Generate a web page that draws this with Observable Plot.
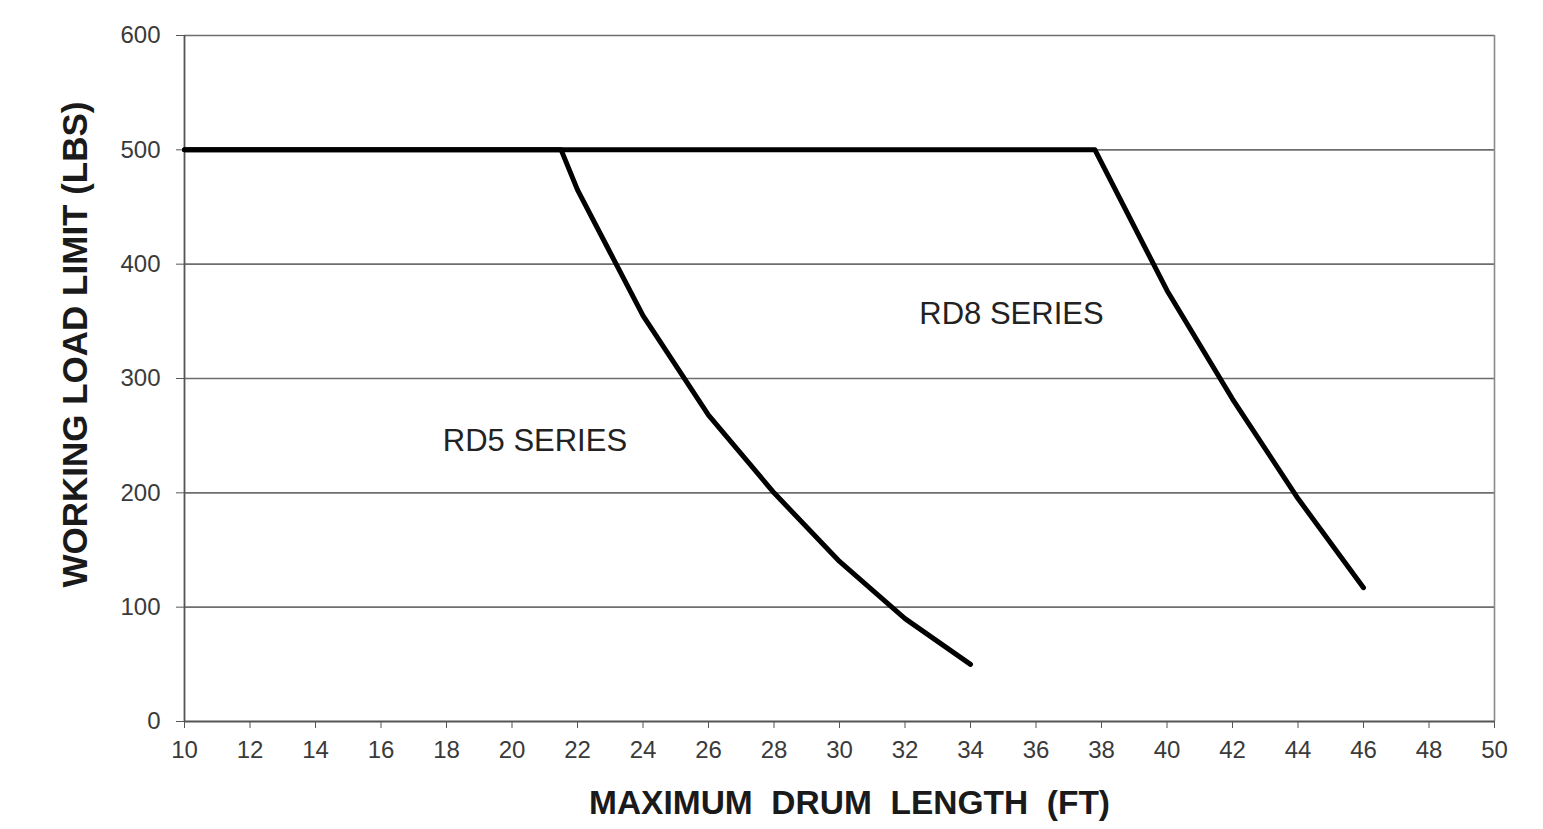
<!DOCTYPE html>
<html>
<head>
<meta charset="utf-8">
<script src="https://cdn.jsdelivr.net/npm/d3@7"></script>
<script src="https://cdn.jsdelivr.net/npm/@observablehq/plot@0.6"></script>
<style>
  html, body { margin: 0; padding: 0; background: #fff; }
  #chart svg { display: block; }
</style>
</head>
<body>
<div id="chart"></div>
<script>
// Drum length (ft) vs working load limit (lbs)
const rd5Length = [10, 21.5, 22, 23, 24, 26, 28, 30, 32, 34];
const rd5Load   = [500, 500, 465, 410, 355, 268, 200, 140, 90, 50];
const rd8Length = [10, 37.8, 40, 42, 44, 46];
const rd8Load   = [500, 500, 377, 282, 195, 117];

const xTicks = d3.range(10, 51, 2);
const yTicks = [0, 100, 200, 300, 400, 500, 600];
const gridLines = [100, 200, 300, 400, 500, 600];

const seriesLabels = ["RD5 SERIES", "RD8 SERIES"];
const labelX = [20.7, 35.25];
const labelY = [245, 356];

const xTitle = "MAXIMUM\u00A0\u00A0DRUM\u00A0\u00A0LENGTH\u00A0\u00A0(FT)";
const yTitle = "WORKING LOAD LIMIT (LBS)";

const rd5 = rd5Length.map((x, i) => ({x, y: rd5Load[i]}));
const rd8 = rd8Length.map((x, i) => ({x, y: rd8Load[i]}));
const labels = seriesLabels.map((t, i) => ({t, x: labelX[i], y: labelY[i]}));

const font = "Liberation Sans, Arial, sans-serif";

const chart = Plot.plot({
  width: 1543,
  height: 829,
  marginLeft: 184,
  marginRight: 49,
  marginTop: 35,
  marginBottom: 108,
  style: {fontFamily: font, background: "#fff", overflow: "visible"},
  x: {domain: [10, 50], ticks: xTicks},
  y: {domain: [0, 600], ticks: yTicks},
  marks: [
    Plot.ruleY(gridLines, {stroke: "#6e6e6e", strokeWidth: 1.6}),
    Plot.ruleX([50], {stroke: "#8a8a8a", strokeWidth: 1.6}),
    Plot.ruleX([10], {stroke: "#555", strokeWidth: 1.8}),
    Plot.ruleY([0], {stroke: "#555", strokeWidth: 1.8}),
    Plot.axisY({ticks: yTicks, tickSize: 8, tickPadding: 16, fontSize: 24, color: "#3a3a3a", stroke: "#555", label: null, tickFormat: d => String(d)}),
    Plot.axisX({ticks: xTicks, tickSize: 7, tickPadding: 12, fontSize: 24, color: "#3a3a3a", stroke: "#555", label: null, tickFormat: d => String(d)}),
    Plot.line(rd5, {x: "x", y: "y", stroke: "#000", strokeWidth: 5, strokeLinejoin: "round", strokeLinecap: "round"}),
    Plot.line(rd8, {x: "x", y: "y", stroke: "#000", strokeWidth: 5, strokeLinejoin: "round", strokeLinecap: "round"}),
    Plot.text(labels, {x: "x", y: "y", text: "t", fontSize: 31, fill: "#222", textAnchor: "middle"}),
    Plot.text([xTitle], {frameAnchor: "bottom", dx: 10, dy: 92, fontSize: 33.5, fontWeight: "bold", fill: "#1a1a1a"}),
    Plot.text([yTitle], {frameAnchor: "left", textAnchor: "middle", rotate: -90, dx: -109, dy: -34, fontSize: 35, fontWeight: "bold", fill: "#1a1a1a"})
  ]
});
document.getElementById("chart").appendChild(chart);
</script>
</body>
</html>
